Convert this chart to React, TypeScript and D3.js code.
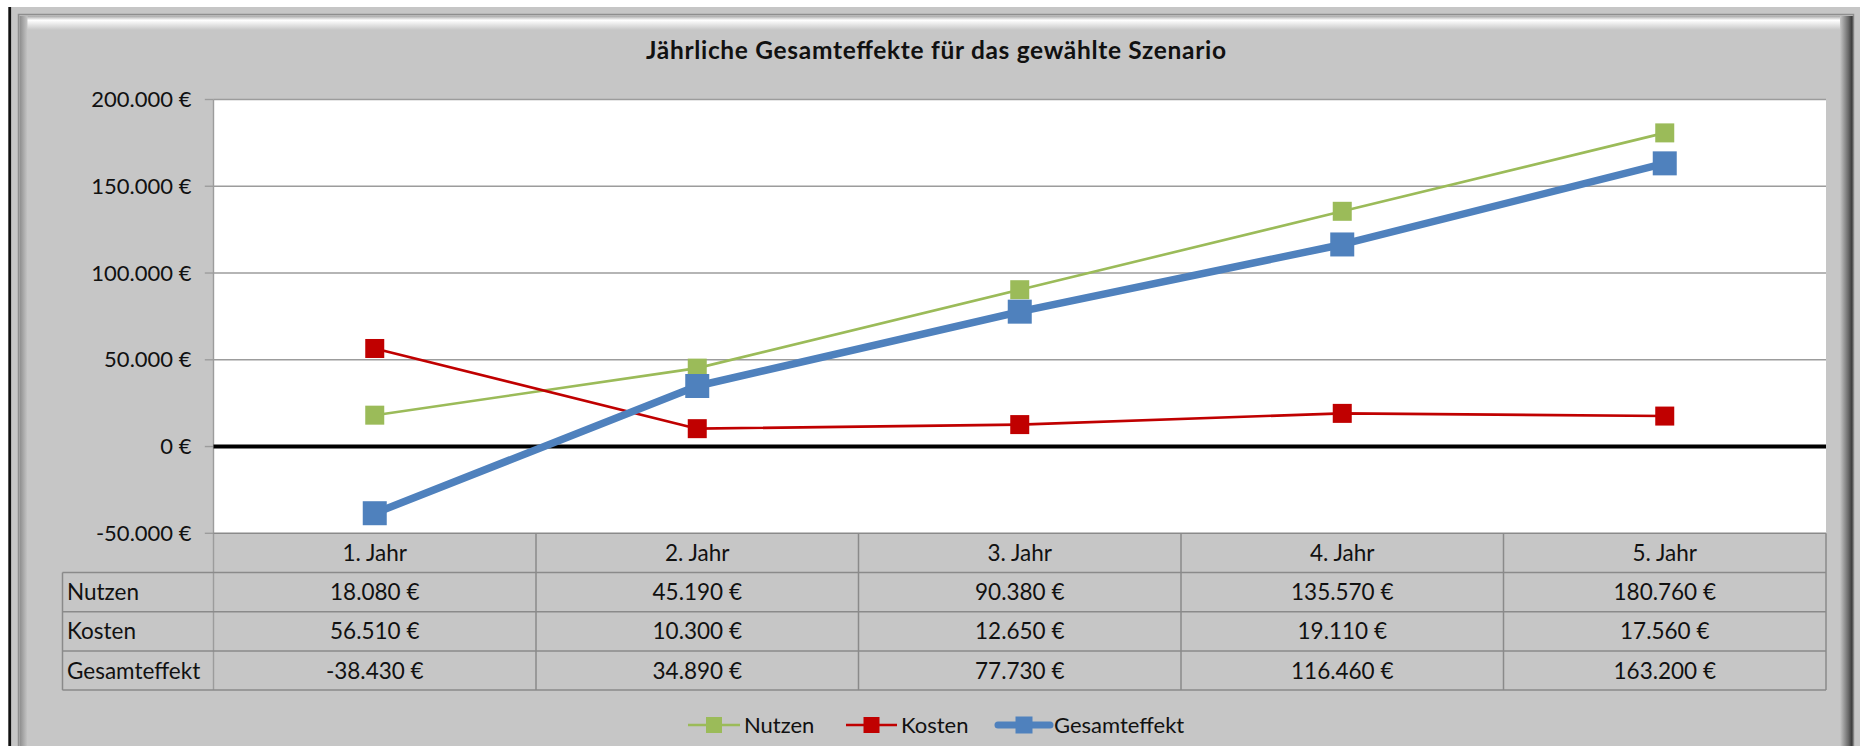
import React from 'react';
import * as d3 from 'd3';

const title = 'Jährliche Gesamteffekte für das gewählte Szenario';
const categories = ['1. Jahr', '2. Jahr', '3. Jahr', '4. Jahr', '5. Jahr'];
const seriesNames = ['Nutzen', 'Kosten', 'Gesamteffekt'];
const nutzen = [18080, 45190, 90380, 135570, 180760];
const kosten = [56510, 10300, 12650, 19110, 17560];
const gesamteffekt = [-38430, 34890, 77730, 116460, 163200];
const yTicks = [-50000, 0, 50000, 100000, 150000, 200000];

const W = 1860;
const H = 746;
const FONT = 'Lato, "Open Sans", sans-serif';

const locale = d3.formatLocale({
  decimal: ',',
  thousands: '.',
  grouping: [3],
  currency: ['', ' €'],
  minus: '-',
});
const fmt = locale.format('$,.0f');

const seriesValues = [nutzen, kosten, gesamteffekt];
const seriesStyle = [
  { color: '#9BBB59', width: 2.6, marker: 19 },
  { color: '#C00000', width: 2.6, marker: 19 },
  { color: '#4F81BD', width: 7.5, marker: 24 },
];

export default function App() {
  const plotLeft = 213.5;
  const plotRight = 1826;
  const plotTop = 99.5;
  const plotBottom = 533.3;
  const tableLeft = 62.5;
  const rowH = 39.2;

  const x = d3.scaleBand<string>().domain(categories).range([plotLeft, plotRight]).padding(0);
  const y = d3.scaleLinear().domain([-50000, 200000]).range([plotBottom, plotTop]);
  const cx = (c: string) => (x(c) as number) + x.bandwidth() / 2;

  const line = d3
    .line<number>()
    .x((_, i) => cx(categories[i]))
    .y((d) => y(d));

  const headerTop = plotBottom;
  const rowTop = (r: number) => headerTop + rowH * (r + 1);
  const tableBottom = rowTop(seriesNames.length);

  const legendItems = [
    { x0: 688, x1: 740, tx: 744 },
    { x0: 846, x1: 897, tx: 901 },
    { x0: 998, x1: 1050, tx: 1054 },
  ];
  const legendY = 725;

  return (
    <svg
      width={W}
      height={H}
      viewBox={`0 0 ${W} ${H}`}
      style={{ position: 'absolute', left: 0, top: 0, display: 'block' }}
      fontFamily={FONT}
    >
      <defs>
        <linearGradient id="topBevel" x1="0" y1="0" x2="0" y2="1">
          <stop offset="0" stopColor="#a8a8a8" />
          <stop offset="0.3" stopColor="#ffffff" />
          <stop offset="1" stopColor="#c6c6c6" />
        </linearGradient>
        <linearGradient id="leftBevel" x1="0" y1="0" x2="1" y2="0">
          <stop offset="0" stopColor="#8c8c8c" />
          <stop offset="1" stopColor="#c6c6c6" />
        </linearGradient>
        <linearGradient id="rightBevel" x1="0" y1="0" x2="1" y2="0">
          <stop offset="0" stopColor="#c6c6c6" />
          <stop offset="0.6" stopColor="#6a6a6a" />
          <stop offset="0.85" stopColor="#3a3a3a" />
          <stop offset="1" stopColor="#9a9a9a" />
        </linearGradient>
      </defs>
      <rect x={0} y={0} width={W} height={H} fill="#ffffff" />
      <rect x={11} y={7} width={W - 11} height={H - 7} fill="#c6c6c6" />
      <rect x={8.3} y={7} width={2.8} height={H - 7} fill="#111111" />
      {/* bevelled frame */}
      <rect x={18.5} y={14.5} width={1835} height={H} fill="none" stroke="#8e8e8e" strokeWidth={1.5} />
      <rect x={20} y={16} width={1830} height={14} fill="url(#topBevel)" />
      <rect x={19.5} y={16} width={8} height={H - 16} fill="url(#leftBevel)" />
      <rect x={1840} y={16} width={14} height={H - 16} fill="url(#rightBevel)" />

      {/* title */}
      <text
        x={936}
        y={59}
        textAnchor="middle"
        fontSize={24.5}
        fontWeight={700}
        fill="#111"
        textLength={580}
        lengthAdjust="spacing"
      >
        {title}
      </text>

      {/* plot background */}
      <rect x={plotLeft} y={plotTop} width={plotRight - plotLeft} height={plotBottom - plotTop} fill="#ffffff" />

      {/* gridlines and y axis */}
      {yTicks.map((t) => (
        <g key={t}>
          {t !== 0 && t !== -50000 && (
            <line x1={plotLeft} x2={plotRight} y1={y(t)} y2={y(t)} stroke="#9c9c9c" strokeWidth={1.4} />
          )}
          <line x1={plotLeft - 8.7} x2={plotLeft} y1={y(t)} y2={y(t)} stroke="#9c9c9c" strokeWidth={1.4} />
          <text x={191.5} y={y(t)} dy="0.35em" textAnchor="end" fontSize={22} fill="#111">
            {fmt(t)}
          </text>
        </g>
      ))}
      <line x1={plotLeft} x2={plotLeft} y1={plotTop} y2={tableBottom} stroke="#9c9c9c" strokeWidth={1.4} />

      {/* table */}
      <g stroke="#8a8a8a" strokeWidth={1.5} fill="none">
        <line x1={plotLeft} x2={plotRight} y1={headerTop} y2={headerTop} />
        {seriesNames.map((_, r) => (
          <line key={r} x1={tableLeft} x2={plotRight} y1={rowTop(r)} y2={rowTop(r)} />
        ))}
        <line x1={tableLeft} x2={plotRight} y1={tableBottom} y2={tableBottom} />
        <line x1={tableLeft} x2={tableLeft} y1={rowTop(0)} y2={tableBottom} />
        {categories.map((c) => (
          <line key={c} x1={(x(c) as number) + x.bandwidth()} x2={(x(c) as number) + x.bandwidth()} y1={headerTop} y2={tableBottom} />
        ))}
      </g>
      {categories.map((c) => (
        <text key={c} x={cx(c)} y={headerTop + rowH / 2} dy="0.36em" textAnchor="middle" fontSize={22.5} fill="#111">
          {c}
        </text>
      ))}
      {seriesNames.map((name, r) => (
        <g key={name}>
          <text x={tableLeft + 4.5} y={rowTop(r) + rowH / 2} dy="0.36em" fontSize={22.5} fill="#111">
            {name}
          </text>
          {seriesValues[r].map((v, i) => (
            <text key={i} x={cx(categories[i])} y={rowTop(r) + rowH / 2} dy="0.36em" textAnchor="middle" fontSize={22.5} fill="#111">
              {fmt(v)}
            </text>
          ))}
        </g>
      ))}

      {/* zero line */}
      <line x1={plotLeft} x2={plotRight} y1={y(0)} y2={y(0)} stroke="#000" strokeWidth={4} />

      {/* series */}
      {seriesValues.map((vals, s) => {
        const st = seriesStyle[s];
        return (
          <g key={seriesNames[s]}>
            <path d={line(vals) || ''} fill="none" stroke={st.color} strokeWidth={st.width} strokeLinejoin="round" />
            {vals.map((v, i) => (
              <rect
                key={i}
                x={cx(categories[i]) - st.marker / 2}
                y={y(v) - st.marker / 2}
                width={st.marker}
                height={st.marker}
                fill={st.color}
              />
            ))}
          </g>
        );
      })}

      {/* legend */}
      {seriesNames.map((name, s) => {
        const st = seriesStyle[s];
        const li = legendItems[s];
        const m = s === 2 ? 17 : 16;
        return (
          <g key={name}>
            <line
              x1={li.x0}
              x2={li.x1}
              y1={legendY}
              y2={legendY}
              stroke={st.color}
              strokeWidth={s === 2 ? 7 : 2.6}
              strokeLinecap={s === 2 ? 'round' : 'butt'}
            />
            <rect x={(li.x0 + li.x1) / 2 - m / 2} y={legendY - m / 2} width={m} height={m} fill={st.color} />
            <text x={li.tx} y={legendY} dy="0.36em" fontSize={22} fill="#111">
              {name}
            </text>
          </g>
        );
      })}
    </svg>
  );
}
